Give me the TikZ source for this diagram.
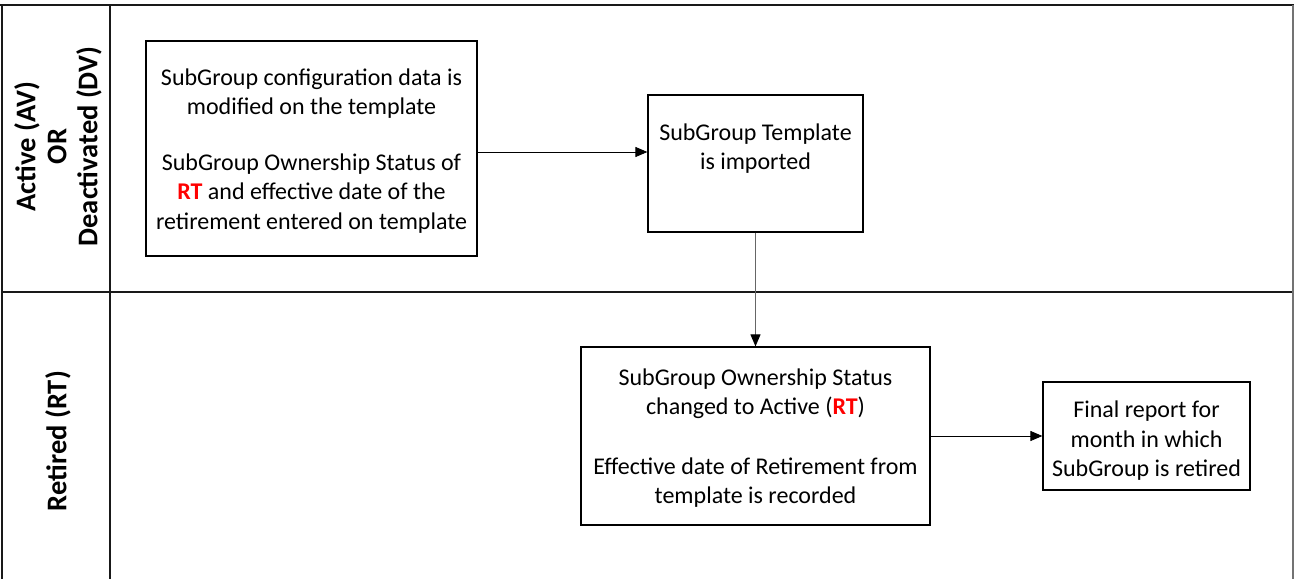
\documentclass[tikz,border=0pt]{standalone}
\usepackage{fontspec}
\setmainfont{Carlito}
\usetikzlibrary{arrows.meta}
\begin{document}
\begin{tikzpicture}[x=1pt,y=-1pt,
  lane/.style={line width=1.5pt,draw=black!90},
  stepbox/.style={draw,line width=1.2pt,inner sep=0pt},
  boxtext/.style={inner sep=0pt,align=center,font=\fontsize{24}{29.5}\selectfont},
  flow/.style={line width=0.9pt,-{Triangle[length=12pt,width=10pt,color=black,fill=black]}},
  lanelabel/.style={rotate=90,align=center,font=\fontsize{28.5}{31}\selectfont\bfseries}]
\useasboundingbox (0,0) rectangle (1294,579);
% lanes
\draw[lane] (0,5) -- (1294,5);
\draw[lane] (2,5) -- (2,579);
\draw[lane] (110,5) -- (110,579);
\draw[lane] (2,292) -- (1294,292);
\draw[line width=1.5pt,draw=black!55] (1293,5) -- (1293,579);
% lane labels
\node[lanelabel] (l1) at (58,146.5) {Active (AV)\\OR\\Deactivated (DV)};
\node[lanelabel] (l2) at (58,441) {Retired (RT)};
% boxes
\node[stepbox,minimum width=331pt,minimum height=215pt] (b1) at (311.5,148.5) {};
\node[boxtext] (t1) at ([yshift=-2.5pt]b1.center)
  {SubGroup configuration data is\\modified on the template\\[26pt]SubGroup Ownership Status of\\{\color{red}\bfseries RT} and effective date of the\\retirement entered on template};
\node[stepbox,minimum width=215pt,minimum height=137pt] (b2) at (755.5,163.5) {};
\node[boxtext] (t2) at ([yshift=15pt]b2.center) {SubGroup Template\\is imported};
\node[stepbox,minimum width=349pt,minimum height=178pt] (b3) at (755.5,436) {};
\node[boxtext] (t3) at ([yshift=-2pt]b3.center)
  {SubGroup Ownership Status\\changed to Active ({\color{red}\bfseries RT})\\[30pt]Effective date of Retirement from\\template is recorded};
\node[stepbox,minimum width=207pt,minimum height=108pt] (b4) at (1146.5,436) {};
\node[boxtext] (t4) at ([yshift=-5pt]b4.center) {Final report for\\month in which\\SubGroup is retired};
% connectors
\draw[flow] (b1.east |- 0,152) -- (b2.west |- 0,152);
\draw[flow,draw=black!60] (b2.south) -- (b3.north);
\draw[flow] (b3.east) -- (b4.west);
\end{tikzpicture}
\end{document}
